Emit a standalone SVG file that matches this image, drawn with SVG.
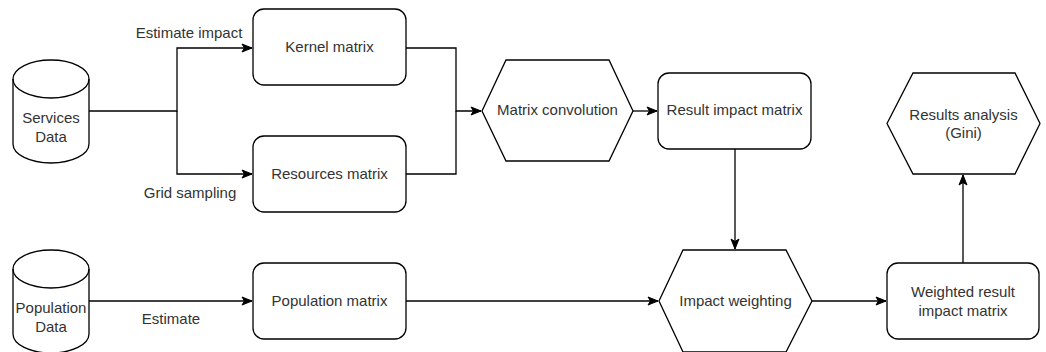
<svg xmlns="http://www.w3.org/2000/svg" width="1046" height="352" viewBox="0 0 1046 352">
<style>
.s{fill:#fff;stroke:#000;stroke-width:1.3}
.c{fill:none;stroke:#000;stroke-width:1.3}
text{font-family:"Liberation Sans",Arial,sans-serif;font-size:15px;fill:#333;text-anchor:middle}
</style>
<defs>
<marker id="a" markerUnits="userSpaceOnUse" markerWidth="12" markerHeight="10" refX="10" refY="4" orient="auto" overflow="visible">
<path d="M0,0 L10,4 L0,8 L2.5,4 Z" fill="#000" stroke="#000" stroke-width="1"/>
</marker>
</defs>
<rect width="1046" height="352" fill="#fff"/>
<g id="connectors">
<path class="c" d="M89,111 H177 V48 H252" marker-end="url(#a)"/>
<path class="c" d="M177,111 V174 H252" marker-end="url(#a)"/>
<path class="c" d="M406,48 H456 V111 H481" marker-end="url(#a)"/>
<path class="c" d="M406,174 H456 V111"/>
<path class="c" d="M633,111 H657" marker-end="url(#a)"/>
<path class="c" d="M735,149 V249" marker-end="url(#a)"/>
<path class="c" d="M89,301 H252" marker-end="url(#a)"/>
<path class="c" d="M406,301 H658" marker-end="url(#a)"/>
<path class="c" d="M812,301 H886" marker-end="url(#a)"/>
<path class="c" d="M963,263 V175" marker-end="url(#a)"/>
</g>
<g id="lbl-estimate-impact"><text x="189" y="38">Estimate impact</text></g>
<g id="lbl-grid-sampling"><text x="190" y="198">Grid sampling</text></g>
<g id="lbl-estimate"><text x="171" y="324">Estimate</text></g>
<g id="services-data">
<path class="s" d="M13,79 a38,19 0 0 1 76,0 V144 a38,19 0 0 1 -76,0 Z"/>
<path class="c" d="M13,79 a38,19 0 0 0 76,0"/>
<text x="51" y="123">Services</text>
<text x="51" y="142">Data</text>
</g>
<g id="population-data">
<path class="s" d="M13,269 a38,19 0 0 1 76,0 V334 a38,19 0 0 1 -76,0 Z"/>
<path class="c" d="M13,269 a38,19 0 0 0 76,0"/>
<text x="51" y="313">Population</text>
<text x="51" y="332">Data</text>
</g>
<g id="kernel-matrix">
<rect class="s" x="253" y="9" width="153" height="76" rx="11"/>
<text x="329.5" y="52">Kernel matrix</text>
</g>
<g id="resources-matrix">
<rect class="s" x="253" y="136" width="153" height="76" rx="11"/>
<text x="329.5" y="179">Resources matrix</text>
</g>
<g id="population-matrix">
<rect class="s" x="253" y="263" width="153" height="76" rx="11"/>
<text x="329.5" y="306">Population matrix</text>
</g>
<g id="matrix-convolution">
<polygon class="s" points="482,111 506,60 609,60 633,111 609,161 506,161"/>
<text x="557.5" y="115">Matrix convolution</text>
</g>
<g id="result-impact-matrix">
<rect class="s" x="658" y="73" width="153" height="76" rx="11"/>
<text x="734.5" y="115">Result impact matrix</text>
</g>
<g id="impact-weighting">
<polygon class="s" points="659,301 683,250 786,250 812,301 786,352 683,352"/>
<text x="735.5" y="306">Impact weighting</text>
</g>
<g id="weighted-result">
<rect class="s" x="887" y="263" width="152" height="76" rx="11"/>
<text x="963" y="297">Weighted result</text>
<text x="963" y="316">impact matrix</text>
</g>
<g id="results-analysis">
<polygon class="s" points="887,123.5 913,73 1015,73 1040,123.5 1015,174 913,174"/>
<text x="963.5" y="120">Results analysis</text>
<text x="963.5" y="138">(Gini)</text>
</g>
</svg>
